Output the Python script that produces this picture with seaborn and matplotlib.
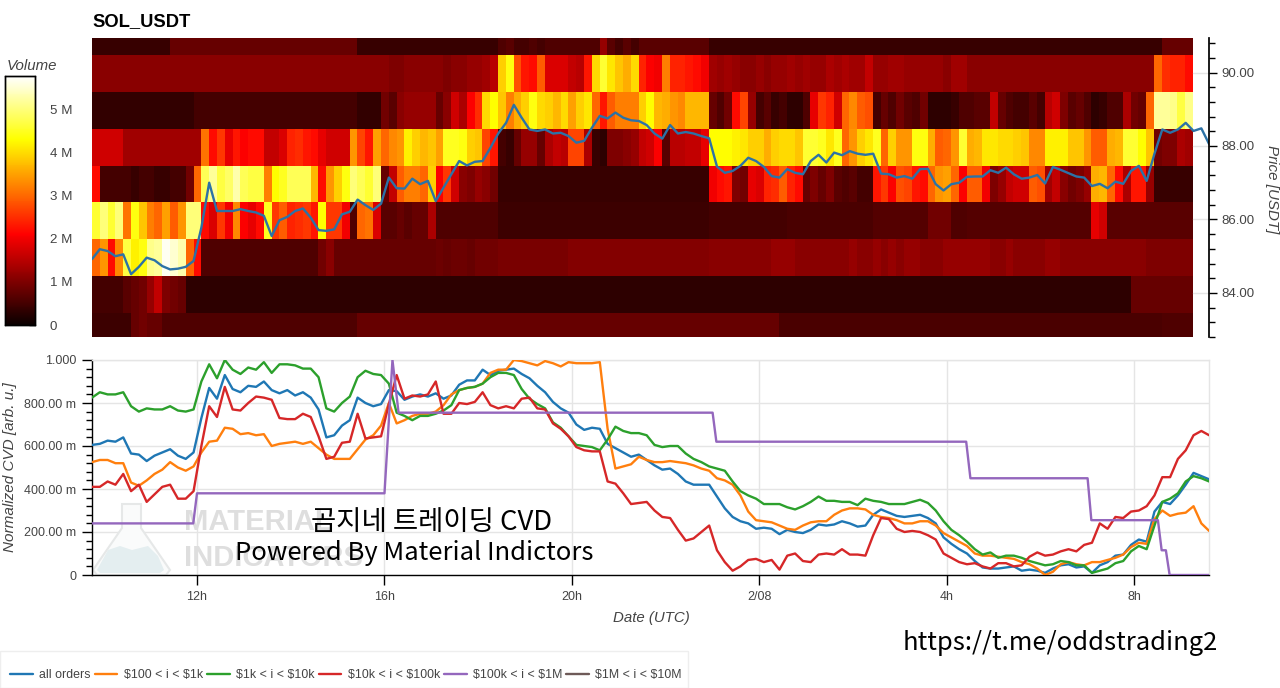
import numpy as np
import pandas as pd
import matplotlib
matplotlib.use("Agg")
import matplotlib.pyplot as plt
from matplotlib.patches import Polygon, Rectangle
from matplotlib.ticker import MultipleLocator, NullFormatter
import seaborn as sns

W, H = 1280, 688

# volume per price bin [M], top row first, one value per 10 min column
row_8 = [.4,.4,.4,.4,.4,.4,.4,.4,.4,.4, .8,.8,.8,.8,.8,.8,.8,.8,.8,.8, .8,.8,.8,.8,.8,.8,.8,.8,.8,.8,
         .8,.8,.8,.8,.4,.4,.4,.4,.4,.4, .4,.4,.4,.4,.4,.4,.4,.4,.4,.4, .4,.4,.6,.7,.5,.5,.6,.5,.6,.6,
         .6,.6,.6,.6,.6,1.2,.7,.5,.7,.5, .7,.7,.7,.7,.7,.7,.7,.7,.7,.4, .4,.4,.4,.4,.4,.4,.4,.4,.4,.4,
         .4,.4,.4,.4,.4,.4,.4,.4,.4,.4, .4,.4,.4,.4,.4,.4,.4,.4,.4,.4, .4,.4,.4,.4,.4,.4,.4,.4,.4,.4,
         .4,.4,.4,.4,.4,.4,.4,.4,.4,.4, .4,.4,.4,.4,.4,.4,.4,.8,.8,.8, .8]
row_7 = [1.1,1.1,1.1,1.1,1.1,1.1,1.1,1.1,1.1,1.1, 1.1,1.1,1.1,1.1,1.1,1.1,1.1,1.1,1.1,1.1,
         1.1,1.1,1.1,1.1,1.1,1.1,1.1,1.1,1.1,1.1, 1.1,1.1,1.1,1.1,1.1,1.1,1.1,1.1,1.0,1.0,
         1.1,1.1,1.1,1.1,1.1,1.0,1.1,1.1,1.2,1.2, 1.3,1.5,3.9,4.4,2.8,2.3,2.2,2.9,1.8,1.8,
         1.8,1.6,1.5,2.3,4.0,4.6,4.1,3.8,3.6,4.0, 2.4,2.1,2.0,3.2,2.4,2.4,2.3,2.2,2.0,1.3,
         1.2,1.3,1.2,1.1,1.1,1.2,1.1,1.2,1.2,1.3, 1.2,1.3,1.2,1.2,1.4,1.3,1.4,1.3,1.3,1.6,
         1.2,1.2,1.3,1.3,1.2,1.2,1.2,1.2,1.2,1.1, 1.3,1.3,1.1,1.1,1.1,1.1,1.1,1.1,1.1,1.1,
         1.1,1.1,1.1,1.1,1.1,1.1,1.1,1.1,1.1,1.1, 1.1,1.1,1.1,1.1,1.1,1.1,3.0,2.5,2.4,2.4, 2.2]
row_6 = [.35,.35,.35,.35,.35,.35,.35,.35,.35,.35, .35,.35,.35,.5,.5,.5,.5,.5,.5,.5,
         .5,.5,.5,.5,.5,.5,.5,.5,.5,.5, .5,.5,.5,.5,.35,.35,.35,.9,.7,1.1,
         1.2,1.2,1.2,1.2,.8,1.1,1.7,1.4,2.1,2.5, 4.0,4.3,3.8,3.2,3.6,3.9,4.4,4.0,3.9,3.7,
         4.0,3.5,3.9,4.1,3.0,2.3,2.9,3.2,3.2,3.2, 3.9,4.3,3.7,3.6,3.4,3.3,3.7,3.7,3.7,.8,
         .6,.9,2.2,2.7,1.2,.5,.7,.4,.5,.3, .3,.6,1.9,2.6,2.4,1.7,3.0,3.3,2.9,2.8,
         .5,.8,.6,.9,.7,.6,.9,.3,.3,.3, .4,.6,.6,.7,.7,1.6,.8,.6,.5,.5,
         .7,.5,1.5,1.7,1.0,.7,.8,.6,.3,.4, .6,.6,1.4,.9,.8,3.0,5.2,5.2,5.1,4.7, 5.1]
row_5 = [1.7,1.7,1.7,1.7,1.3,1.3,1.3,1.3,1.3,1.3, 1.3,1.3,1.3,1.3,3.1,2.2,2.6,1.9,2.3,2.1,
         2.2,2.2,1.6,1.6,1.8,2.4,2.5,2.3,2.2,1.9, 1.7,1.7,1.7,3.4,2.7,2.3,3.5,3.0,3.3,3.4,
         4.2,3.9,3.7,3.8,3.5,4.5,4.5,4.4,3.9,3.8, 2.7,2.3,.5,.4,.8,1.2,1.2,.8,1.4,1.6,
         1.5,2.7,2.7,1.4,.4,.3,1.0,1.0,1.1,1.2, 1.6,1.7,2.1,.7,1.5,1.5,1.6,1.6,1.9,4.3,
         4.3,4.3,4.2,4.1,3.9,3.9,3.6,3.9,4.0,4.0, 3.8,4.6,4.6,4.5,4.1,4.5,3.0,3.4,3.9,4.1,
         4.5,3.0,3.9,3.4,3.4,4.4,4.4,3.6,2.9,3.0, 3.4,4.6,3.6,3.7,4.1,4.1,4.0,4.0,3.9,3.8,
         3.3,3.3,4.2,4.2,4.2,3.8,3.8,3.4,2.9,2.9, 3.6,3.7,4.6,4.6,4.3,3.8,.9,1.0,1.0,1.4, 1.3]
row_4 = [2.2,.5,.5,.5,.5,.4,.5,.5,.4,.4, .5,.5,.9,3.0,4.8,5.2,4.7,4.9,5.3,4.8,
         4.7,4.7,3.2,4.3,4.5,4.8,4.8,4.8,3.7,2.2, 3.4,3.9,4.4,5.0,4.8,4.6,5.0,.8,1.6,2.9,
         3.2,3.2,3.0,3.9,2.1,2.6,1.7,1.1,1.0,1.2, 1.1,.9,.4,.4,.4,.4,.4,.4,.4,.4,
         .4,.4,.4,.4,.4,.4,.4,.4,.4,.4, .4,.4,.4,.4,.4,.4,.4,.4,.4,2.0,
         2.2,2.3,1.0,.9,1.9,1.8,2.4,2.5,2.9,2.4, 2.2,.8,1.0,.8,1.0,.7,.6,.7,.5,.5,
         2.3,2.6,2.1,2.8,2.7,2.3,2.2,3.0,3.4,3.5, 3.0,2.1,2.9,2.9,2.0,1.0,1.2,1.6,1.7,1.7,
         2.9,2.8,1.3,1.6,1.1,.9,1.0,1.2,3.6,3.7, 3.0,2.2,1.4,2.3,2.3,1.2,.4,.4,.4,.4, .4]
row_3 = [4.6,5.0,4.6,5.0,3.1,4.4,3.8,3.2,3.0,3.5, 2.9,3.4,5.0,5.0,2.2,1.8,2.6,2.0,3.3,2.1,
         1.9,2.2,4.5,2.6,2.9,2.4,2.5,2.6,2.3,4.3, 2.6,2.6,2.0,.6,3.0,3.1,1.8,.7,.7,.8,
         .7,.8,.8,1.4,.6,.6,.6,.6,.6,.6, .6,.6,.45,.45,.45,.45,.45,.45,.45,.45,
         .45,.45,.45,.45,.45,.45,.45,.45,.45,.45, .45,.45,.45,.45,.45,.45,.45,.45,.45,.5,
         .5,.5,.5,.5,.5,.5,.5,.5,.5,.55, .55,.55,.55,.55,.55,.55,.55,.55,.55,.55,
         .65,.65,.65,.65,.65,.65,.65,.9,.9,.9, .6,.6,.65,.65,.65,.65,.65,.65,.65,.65,
         .65,.65,.65,.65,.65,.65,.65,.65,1.9,1.7, .7,.7,.7,.7,.7,.7,.7,.7,.7,.7, .7]
row_2 = [3.0,3.4,2.2,3.3,4.7,4.2,4.4,5.1,5.2,5.7, 5.5,5.3,3.0,2.2,.6,.6,.6,.6,.6,.6,
         .6,.6,.6,.6,.6,.6,.6,.6,.6,.9, 1.1,.8,.8,.8,.8,.8,.8,.8,.8,.8,
         .8,.8,.8,.8,.85,.8,.85,.85,.8,.9, .9,.9,.95,.95,.95,.95,.95,.95,.95,.95,
         .95,1.05,1.05,1.05,1.05,1.05,1.05,1.05,1.05,1.05, 1.05,1.05,1.05,1.05,1.05,1.05,1.05,1.05,1.05,1.1,
         1.1,1.1,1.1,1.1,1.1,1.1,1.1,1.2,1.2,1.2, 1.1,1.1,1.1,1.1,1.1,1.1,1.1,1.2,1.1,1.1,
         1.2,1.1,1.2,1.1,1.2,1.2,1.1,1.1,1.1,1.2, 1.2,1.2,1.2,1.2,1.2,1.1,1.1,1.2,1.1,1.1,
         1.1,1.1,1.2,1.2,1.1,1.1,1.1,1.1,1.1,1.1, 1.1,1.1,1.1,1.1,1.1,1.0,1.0,1.0,1.0,1.0, 1.0]
row_1 = [.5,.5,.5,.5,.7,.8,.9,1.2,1.6,1.0, .9,.8,.3,.3,.3,.3,.3,.3,.3,.3,
         .3,.3,.3,.3,.3,.3,.3,.3,.3,.3, .3,.3,.3,.3,.3,.3,.3,.3,.3,.3,
         .3,.3,.3,.3,.3,.3,.3,.3,.3,.3, .3,.3,.3,.3,.3,.3,.3,.3,.3,.3,
         .3,.3,.3,.3,.3,.3,.3,.3,.3,.3, .3,.3,.3,.3,.3,.3,.3,.3,.3,.3,
         .3,.3,.3,.3,.3,.3,.3,.3,.3,.3, .3,.3,.3,.3,.3,.3,.3,.3,.3,.3,
         .3,.3,.3,.3,.3,.3,.3,.3,.3,.3, .3,.3,.3,.3,.3,.3,.3,.3,.3,.3,
         .3,.3,.3,.3,.3,.3,.3,.3,.3,.3, .3,.3,.3,.8,.8,.8,.8,.8,.8,.8, .8]
row_0 = [.45,.45,.45,.45,.45,.8,.9,.8,.8,.6, .6,.6,.6,.6,.6,.6,.6,.6,.6,.6,
         .6,.6,.6,.6,.6,.6,.6,.6,.6,.6, .6,.6,.6,.6,.8,.8,.8,.8,.8,.8,
         .8,.8,.8,.8,.8,.8,.8,.8,.8,.8, .8,.8,.8,.8,.8,.8,.8,.8,.8,.8,
         .8,.8,.8,.8,.8,.8,.8,.8,.8,.8, .8,.8,.8,.8,.8,.8,.8,.8,.8,.8,
         .8,.8,.8,.8,.8,.8,.8,.8,.55,.55, .55,.55,.55,.55,.55,.55,.55,.55,.55,.55,
         .55,.55,.55,.55,.55,.55,.55,.55,.55,.55, .55,.55,.55,.55,.55,.55,.55,.55,.55,.55,
         .55,.55,.55,.55,.55,.55,.55,.55,.55,.55, .55,.55,.55,.55,.55,.55,.55,.6,.6,.6, .6]

# price and normalized CVD, one value every 10 min
price = [84.92,85.19,85.14,85.0,85.05,84.51,84.71,84.96,84.89,84.73,
         84.64,84.66,84.71,84.87,85.78,87.0,86.23,86.23,86.23,86.28,
         86.23,86.19,86.1,85.55,85.98,86.07,86.23,86.3,86.05,85.71,
         85.69,85.73,86.14,86.21,86.54,86.39,86.26,86.43,87.14,86.85,
         86.84,87.11,86.96,87.05,86.5,86.87,87.23,87.59,87.47,87.57,
         87.59,87.95,88.34,88.63,89.12,88.77,88.45,88.41,88.45,88.34,
         88.36,88.27,88.09,88.14,88.5,88.82,88.75,88.91,88.77,88.7,
         88.68,88.57,88.34,88.2,88.57,88.34,88.38,88.34,88.27,88.21,
         87.44,87.27,87.32,87.46,87.68,87.59,87.43,87.18,87.14,87.37,
         87.27,87.23,87.59,87.76,87.55,87.82,87.75,87.86,87.79,87.76,
         87.79,87.25,87.23,87.14,87.18,87.11,87.37,87.38,86.96,86.79,
         86.96,87.0,87.16,87.17,87.17,87.34,87.27,87.41,87.23,87.11,
         87.14,87.21,86.98,87.43,87.35,87.26,87.17,87.14,86.91,86.97,
         86.85,87.03,86.97,87.32,87.46,87.05,87.79,88.45,88.36,88.45,
         88.63,88.41,88.48,88.05]
all_orders = [.605,.61,.625,.62,.64,.565,.56,.53,.555,.57,
              .585,.555,.54,.57,.73,.87,.82,.93,.865,.85,
              .88,.875,.90,.86,.845,.86,.835,.85,.825,.77,
              .64,.65,.695,.72,.825,.80,.785,.795,.86,.855,
              .815,.83,.84,.83,.845,.82,.835,.885,.905,.905,
              .955,.93,.95,.955,.96,.935,.915,.88,.85,.805,
              .775,.755,.70,.675,.685,.68,.61,.59,.57,.55,
              .56,.535,.51,.49,.495,.47,.435,.42,.42,.42,
              .365,.31,.27,.25,.24,.215,.22,.215,.19,.21,
              .20,.195,.21,.235,.23,.235,.25,.24,.225,.23,
              .28,.305,.29,.275,.27,.275,.28,.265,.24,.175,
              .145,.12,.10,.065,.035,.03,.03,.035,.04,.02,
              .025,.02,.01,.03,.045,.05,.035,.04,.01,.045,
              .06,.09,.095,.14,.165,.155,.295,.34,.33,.37,
              .42,.475,.46,.445]
orders_100_1k = [.525,.535,.535,.52,.52,.43,.415,.44,.47,.49,
                 .525,.50,.485,.505,.57,.62,.625,.685,.68,.655,
                 .66,.65,.655,.60,.61,.615,.62,.61,.62,.59,
                 .56,.54,.54,.54,.585,.63,.65,.695,.80,.705,
                 .72,.74,.75,.75,.76,.79,.84,.86,.87,.875,
                 .89,.94,.955,.955,1.0,.995,.985,.975,.995,.985,
                 .97,.99,.985,.985,.985,.99,.68,.495,.505,.515,
                 .55,.535,.525,.525,.53,.525,.52,.51,.495,.485,
                 .45,.44,.42,.37,.295,.255,.25,.245,.23,.215,
                 .21,.23,.245,.25,.25,.28,.30,.31,.31,.305,
                 .28,.27,.265,.255,.24,.24,.25,.25,.23,.195,
                 .175,.155,.135,.10,.09,.09,.085,.08,.075,.06,
                 .05,.03,.0,.015,.05,.06,.05,.045,.06,.06,
                 .07,.08,.095,.13,.15,.145,.26,.30,.275,.285,
                 .29,.32,.24,.205]
orders_1k_10k = [.825,.85,.84,.84,.85,.785,.76,.775,.77,.77,
                 .785,.765,.76,.77,.90,.98,.915,1.0,.955,.935,
                 .965,.955,.99,.94,.98,.98,.975,.96,.96,.92,
                 .775,.76,.80,.83,.92,.95,.935,.93,.89,.755,
                 .74,.72,.74,.74,.75,.765,.79,.86,.87,.875,
                 .89,.92,.94,.94,.93,.865,.82,.795,.775,.71,
                 .685,.645,.605,.60,.595,.58,.63,.69,.67,.66,
                 .66,.65,.605,.595,.60,.60,.565,.54,.525,.505,
                 .495,.485,.435,.39,.37,.355,.33,.33,.33,.315,
                 .305,.32,.34,.365,.345,.345,.34,.34,.325,.355,
                 .345,.34,.33,.33,.33,.34,.35,.335,.30,.25,
                 .21,.185,.155,.12,.095,.105,.08,.09,.09,.08,
                 .065,.055,.045,.05,.065,.06,.045,.045,.01,.02,
                 .03,.055,.065,.11,.135,.12,.23,.34,.355,.38,
                 .435,.46,.45,.435]
orders_10k_100k = [.41,.41,.435,.42,.47,.39,.42,.34,.375,.41,
                   .42,.355,.355,.39,.60,.785,.735,.875,.77,.765,
                   .80,.83,.825,.815,.73,.725,.725,.75,.735,.645,
                   .54,.55,.615,.62,.75,.635,.64,.645,.795,.93,
                   .82,.835,.83,.84,.90,.75,.75,.80,.795,.805,
                   .85,.79,.775,.785,.775,.82,.825,.775,.77,.705,
                   .68,.645,.595,.58,.575,.575,.435,.425,.38,.33,
                   .335,.34,.30,.27,.265,.21,.16,.17,.20,.23,
                   .115,.06,.02,.04,.07,.075,.06,.07,.025,.09,
                   .10,.065,.06,.095,.10,.095,.12,.095,.095,.09,
                   .185,.265,.26,.215,.20,.205,.20,.185,.165,.10,
                   .08,.06,.05,.055,.04,.03,.055,.055,.04,.045,
                   .085,.105,.09,.095,.11,.12,.11,.14,.15,.24,
                   .215,.27,.265,.295,.30,.32,.37,.455,.455,.54,
                   .58,.65,.67,.65]
# this one only steps, so it keeps its own times [h after 0h on 2/07]
orders_100k_1m_t = [9.76,11.92,12.0,16.0,16.17,16.3,23.0,23.08,28.41,28.5,31.0,31.08,32.5,32.58,32.67,32.75,33.59]
orders_100k_1m = [.24,.24,.38,.38,1.0,.755,.755,.62,.62,.45,.45,.255,.255,.115,.115,0,0]

series_labels = ["all orders", r"\$100 < i < \$1k", r"\$1k < i < \$10k", r"\$10k < i < \$100k",
                 r"\$100k < i < \$1M", r"\$1M < i < \$10M"]
series_colors = ["#1f77b4", "#ff7f0e", "#2ca02c", "#d62728", "#9467bd", "#6e5a58"]
date_ticks = [12, 16, 20, 24, 28, 32]
date_labels = ["12h", "16h", "20h", "2/08", "4h", "8h"]
cvd_ticks = [0, .2, .4, .6, .8, 1.0]
cvd_labels = ["0", "200.00 m", "400.00 m", "600.00 m", "800.00 m", "1.000"]
price_ticks = [84, 86, 88, 90]
volume_ticks = [0, 1, 2, 3, 4, 5]


def box(left, top, right, bottom):
    # pixel box to figure fractions
    return [left / W, 1 - bottom / H, (right - left) / W, (bottom - top) / H]


sns.set_theme(style="white")
plt.rcParams["font.family"] = ["Liberation Sans", "DejaVu Sans"]
plt.rcParams["text.color"] = "#444444"
plt.rcParams["axes.labelcolor"] = "#444444"

fig = plt.figure(figsize=(W / 100, H / 100), dpi=100, facecolor="white")

# === heatmap ===
heat_ax = fig.add_axes(box(92, 38, 1193, 337))
cbar_ax = fig.add_axes(box(5, 76, 35, 325))
volume = pd.DataFrame([row_8, row_7, row_6, row_5, row_4, row_3, row_2, row_1, row_0])
sns.heatmap(volume, ax=heat_ax, cbar_ax=cbar_ax, cmap="hot", vmin=0, vmax=5.79,
            xticklabels=False, yticklabels=False, linewidths=0, rasterized=True)
heat_ax.set_ylim(8.65, 0.54)  # first and last price bins are cut by the range
heat_ax.set_xlabel("")
heat_ax.set_ylabel("")

cbar_ax.set_yticks(volume_ticks)
cbar_ax.set_yticklabels(["0" if v == 0 else f"{v} M" for v in volume_ticks], fontsize=9.6, color="#444444")
cbar_ax.tick_params(axis="y", direction="in", length=4, width=1, color="black", pad=10.5, right=True, left=False)
for spine in cbar_ax.spines.values():
    spine.set_visible(True)
    spine.set_color("black")
    spine.set_linewidth(1)
fig.text(7 / W, 1 - 65.5 / H, "Volume", fontsize=10.8, style="italic", va="center", ha="left")

# === price line over the heatmap ===
t = 9.76 + np.arange(len(price)) / 6
price_ax = fig.add_axes(box(92, 38, 1209, 337))
price_ax.patch.set_alpha(0)
sns.lineplot(x=t, y=price, ax=price_ax, color="#2c72a6", linewidth=1.7, errorbar=None)
price_ax.set_xlim(9.76, 33.59)
price_ax.set_ylim(82.8, 90.94)
price_ax.xaxis.set_visible(False)
price_ax.yaxis.tick_right()
price_ax.set_yticks(price_ticks)
price_ax.set_yticklabels([f"{p:.2f}" for p in price_ticks], fontsize=9.5, color="#444444")
price_ax.yaxis.set_minor_locator(MultipleLocator(0.4))
price_ax.yaxis.set_minor_formatter(NullFormatter())
price_ax.tick_params(axis="y", which="major", direction="out", length=6, width=1, color="black", pad=3.1, right=True)
price_ax.tick_params(axis="y", which="minor", direction="out", length=4, width=1, color="black", right=True)
for name, spine in price_ax.spines.items():
    spine.set_visible(name == "right")
price_ax.spines["right"].set_color("black")
for p in price_ticks:
    price_ax.axhline(p, xmin=0.986, color="#e5e5e5", linewidth=1, zorder=0)
fig.text(1272 / W, 1 - 189 / H, "Price [USDT]", fontsize=10.9, style="italic", rotation=-90, ha="center", va="center")
fig.text(92 / W, 1 - 22 / H, "SOL_USDT", fontsize=13.2, fontweight="bold", color="black", va="center", ha="left")

# === CVD panel ===
ax = fig.add_axes(box(92, 360, 1209, 575))
ax.grid(True, color="#e5e5e5", linewidth=1)
ax.set_axisbelow(True)

# watermark sits under the lines
ax.add_patch(Polygon([(122 / W, 1 - 504 / H), (141 / W, 1 - 504 / H), (141 / W, 1 - 528 / H), (170 / W, 1 - 570 / H),
                      (166 / W, 1 - 575 / H), (97 / W, 1 - 575 / H), (93 / W, 1 - 570 / H), (122 / W, 1 - 528 / H)],
                     closed=True, transform=fig.transFigure, facecolor="#fafbfb", edgecolor="#e6e8e8", linewidth=1.5, zorder=1))
ax.add_patch(Polygon([(108 / W, 1 - 550 / H), (120 / W, 1 - 546 / H), (132 / W, 1 - 550 / H), (148 / W, 1 - 546 / H), (158 / W, 1 - 556 / H),
                      (164 / W, 1 - 570 / H), (160 / W, 1 - 573 / H), (100 / W, 1 - 573 / H), (97 / W, 1 - 570 / H)],
                     closed=True, transform=fig.transFigure, facecolor="#e4eef0", edgecolor="none", zorder=1))
for y_px, word in [(522, "MATERIAL"), (558, "INDICATORS")]:
    ax.text(184 / W, 1 - y_px / H, word, transform=fig.transFigure, fontsize=21, fontweight="bold", color="#dedede",
            va="center", ha="left", zorder=1)

for values, label, color in zip([all_orders, orders_100_1k, orders_1k_10k, orders_10k_100k],
                                series_labels, series_colors):
    sns.lineplot(x=t, y=values, ax=ax, color=color, linewidth=1.7, label=label, errorbar=None, zorder=3)
sns.lineplot(x=orders_100k_1m_t, y=orders_100k_1m, ax=ax, color=series_colors[4], linewidth=1.7,
             label=series_labels[4], errorbar=None, zorder=3)
ax.plot([], [], color=series_colors[5], linewidth=1.7, label=series_labels[5])

ax.set_xlim(9.76, 33.59)
ax.set_ylim(0, 1)
ax.set_xticks(date_ticks)
ax.set_xticklabels(date_labels, fontsize=9, color="#444444")
ax.set_yticks(cvd_ticks)
ax.set_yticklabels(cvd_labels, fontsize=9, color="#444444")
ax.yaxis.set_minor_locator(MultipleLocator(0.04))
ax.yaxis.set_minor_formatter(NullFormatter())
ax.tick_params(axis="both", which="major", direction="out", length=7, width=1, color="black", left=True, bottom=True, pad=4.5)
ax.tick_params(axis="y", which="minor", direction="out", length=4, width=1, color="black", left=True)
ax.spines["top"].set_color("#e5e5e5")
ax.spines["right"].set_color("#e5e5e5")
ax.spines["left"].set_color("black")
ax.spines["bottom"].set_color("black")
for spine in ax.spines.values():
    spine.set_visible(True)
    spine.set_linewidth(1)
ax.set_xlabel("")
ax.set_ylabel("")
fig.text(651 / W, 1 - 618 / H, "Date (UTC)", fontsize=10.8, style="italic", ha="center", va="center")
fig.text(10 / W, 1 - 467 / H, "Normalized CVD [arb. u.]", fontsize=11, style="italic", rotation=90, ha="center", va="center")

# === legend ===
fig.add_artist(Rectangle((0, 0), 688 / W, 37 / H, transform=fig.transFigure, facecolor="white",
                         edgecolor="#eeeeee", linewidth=1))
handles, labels = ax.get_legend_handles_labels()
ax.get_legend().remove()
fig.legend(handles, labels, loc="center left", bbox_to_anchor=(10 / W, 1 - 675 / H), ncols=6, fontsize=8.9,
           frameon=False, handlelength=1.85, handletextpad=0.5, columnspacing=0.33, borderpad=0, borderaxespad=0,
           labelcolor="#444444")

# === overlay captions ===
cjk = ["Noto Sans CJK KR", "DejaVu Sans"]
fig.text(432 / W, 1 - 522 / H, "곰지네 트레이딩 CVD", fontsize=19.8, family=cjk, color="black", ha="center", va="center")
fig.text(414.5 / W, 1 - 552.5 / H, "Powered By Material Indictors", fontsize=18.4, family=cjk, color="black", ha="center", va="center")
fig.text(1060 / W, 1 - 642.5 / H, "https://t.me/oddstrading2", fontsize=18.4, fontweight="medium", family=cjk, color="black", ha="center", va="center")

fig.savefig("out.png", dpi=100)
